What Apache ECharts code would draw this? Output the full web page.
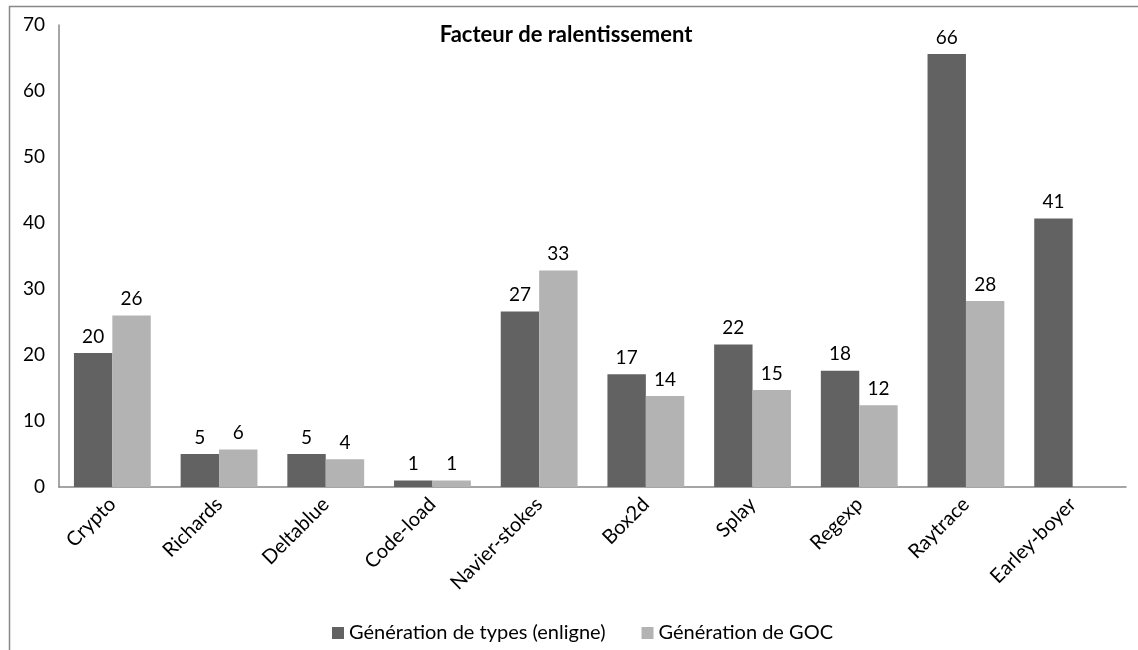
<!DOCTYPE html>
<html>
<head>
<meta charset="utf-8">
<script src="https://cdn.jsdelivr.net/npm/echarts@6/dist/echarts.min.js"></script>
<style>
  html, body { margin: 0; padding: 0; background: #fff; }
  #chart { width: 1138px; height: 650px; }
</style>
</head>
<body>
<div id="chart"></div>
<script>
const categories = ["Crypto", "Richards", "Deltablue", "Code-load", "Navier-stokes", "Box2d", "Splay", "Regexp", "Raytrace", "Earley-boyer"];
const typesEnligne = [20.3, 5.0, 5.0, 1.0, 26.6, 17.1, 21.6, 17.6, 65.6, 40.7];
const genGOC = [26.0, 5.7, 4.2, 1.0, 32.8, 13.8, 14.7, 12.4, 28.2, null];

const font = "Lato, 'Open Sans', sans-serif";

const chart = echarts.init(document.getElementById("chart"));

const barLabel = {
  show: true,
  position: "top",
  distance: 7,
  color: "#000",
  fontFamily: font,
  fontSize: 19,
  formatter: (p) => Math.round(p.value),
};

chart.setOption({
  animation: false,
  backgroundColor: "#fff",
  title: {
    text: "Facteur de ralentissement",
    left: 561,
    textAlign: "center",
    top: 19,
    textStyle: { fontFamily: font, fontSize: 22, fontWeight: "bold", color: "#000" },
  },
  graphic: [
    {
      type: "rect",
      shape: { x: 9.5, y: 6.5, width: 1200, height: 700 },
      style: { fill: "none", stroke: "#888", lineWidth: 1.5 },
      silent: true,
    },
  ],
  legend: {
    top: 618,
    left: 327,
    itemWidth: 12,
    itemHeight: 12,
    itemGap: 36,
    icon: "rect",
    textStyle: { fontFamily: font, fontSize: 20, color: "#000" },
    data: ["Génération de types (enligne)", "Génération de GOC"],
  },
  grid: { left: 59, right: 12, top: 25, bottom: 163 },
  xAxis: {
    type: "category",
    data: categories,
    axisLine: { lineStyle: { color: "#888", width: 1.5 } },
    axisTick: { show: false },
    axisLabel: {
      rotate: 45,
      margin: 14,
      interval: 0,
      color: "#000",
      fontFamily: font,
      fontSize: 20,
    },
  },
  yAxis: {
    type: "value",
    min: 0,
    max: 70,
    interval: 10,
    axisLine: { show: true, lineStyle: { color: "#888", width: 1.5 } },
    axisTick: { show: false },
    splitLine: { show: false },
    axisLabel: { color: "#000", fontFamily: font, fontSize: 19, margin: 14 },
  },
  series: [
    {
      name: "Génération de types (enligne)",
      type: "bar",
      data: typesEnligne,
      barGap: "0%",
      barCategoryGap: "28%",
      itemStyle: { color: "#626262" },
      label: barLabel,
    },
    {
      name: "Génération de GOC",
      type: "bar",
      data: genGOC,
      itemStyle: { color: "#b3b3b3" },
      label: barLabel,
    },
  ],
});
</script>
</body>
</html>
